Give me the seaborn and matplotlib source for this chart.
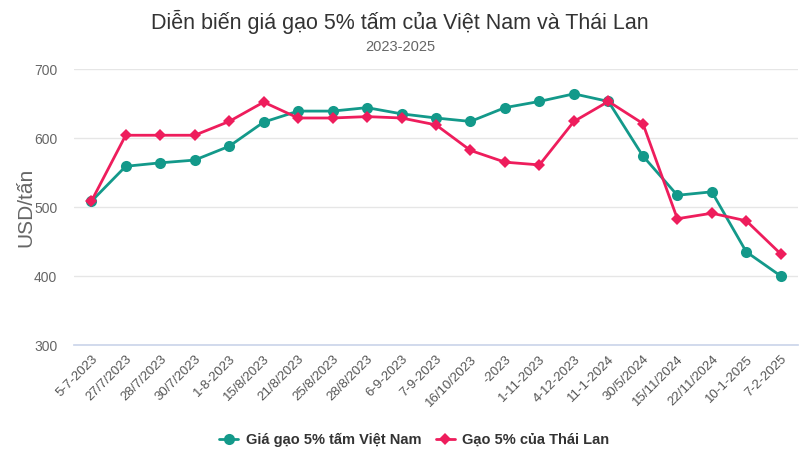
import matplotlib
matplotlib.use("Agg")
import matplotlib.pyplot as plt
import pandas as pd
import seaborn as sns

dates = [
    "5-7-2023", "27/7/2023", "28/7/2023", "30/7/2023", "1-8-2023", "15/8/2023",
    "21/8/2023", "25/8/2023", "28/8/2023", "6-9-2023", "7-9-2023", "16/10/2023",
    "-2023", "1-11-2023", "4-12-2023", "11-1-2024", "30/5/2024", "15/11/2024",
    "22/11/2024", "10-1-2025", "7-2-2025",
]
vietnam = [508, 559, 564, 568, 588, 623, 639, 639, 644, 635, 629, 624,
           644, 653, 664, 653, 574, 517, 522, 435, 400]
thailand = [508, 604, 604, 604, 624, 652, 629, 629, 631, 629, 619, 582,
            565, 561, 624, 653, 621, 483, 491, 480, 432]

VN_NAME = "Giá gạo 5% tấm Việt Nam"
TH_NAME = "Gạo 5% của Thái Lan"
VN_COLOR = "#13998a"
TH_COLOR = "#ee1d5c"

sns.set_theme(style="white")
plt.rcParams["font.family"] = ["Liberation Sans", "DejaVu Sans"]

df = pd.DataFrame({"x": range(len(dates)), "date": dates,
                   "vn": vietnam, "th": thailand})

fig = plt.figure(figsize=(8, 4.71), dpi=100)
ax = fig.add_axes([0.0925, 0.2675, 0.905, 0.586])

sns.lineplot(data=df, x="x", y="vn", ax=ax, color=VN_COLOR, linewidth=2,
             marker="o", markersize=8, markeredgewidth=0, label=VN_NAME, zorder=3)
sns.lineplot(data=df, x="x", y="th", ax=ax, color=TH_COLOR, linewidth=2,
             marker="D", markersize=6, markeredgewidth=0, label=TH_NAME, zorder=4)

ax.set_xlim(-0.5, len(dates) - 0.5)
ax.set_ylim(300, 700)
ax.set_yticks([300, 400, 500, 600, 700])
ax.set_xticks(df["x"])
ax.set_xticklabels(dates, rotation=45, ha="right", rotation_mode="anchor",
                   fontsize=9.5, color="#555555")
ax.tick_params(axis="y", labelsize=10, labelcolor="#666666", length=0, pad=12)
ax.tick_params(axis="x", length=0, pad=6)
ax.grid(axis="y", color="#e6e6e6", linewidth=1)
for s in ["top", "right", "left"]:
    ax.spines[s].set_visible(False)
ax.spines["bottom"].set_color("#ccd6eb")
ax.set_xlabel("")
ax.set_ylabel("USD/tấn", fontsize=15, color="#666666", labelpad=-1)

fig.text(0.5, 0.953, "Diễn biến giá gạo 5% tấm của Việt Nam và Thái Lan",
         ha="center", va="center", fontsize=15.5, color="#333333")
fig.text(0.5, 0.9, "2023-2025", ha="center", va="center", fontsize=10.5,
         color="#666666")

leg = ax.legend(loc="center", bbox_to_anchor=(0.47, -0.344), ncol=2, frameon=False,
                fontsize=10.5, handlelength=1.3, columnspacing=1.0, handletextpad=0.5)
for t in leg.get_texts():
    t.set_fontweight("bold")
    t.set_color("#333333")

fig.savefig("out.png", dpi=100)
